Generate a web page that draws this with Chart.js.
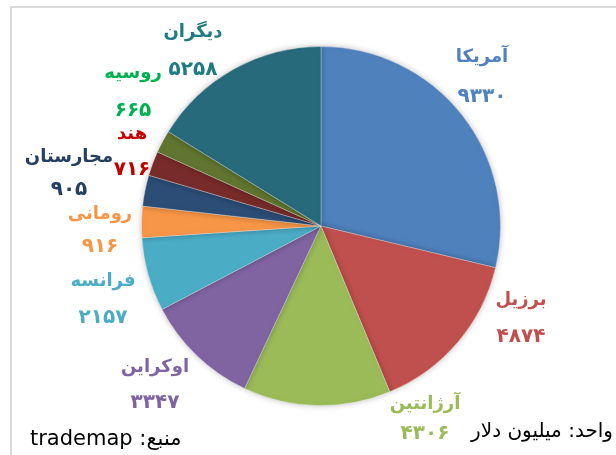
<!DOCTYPE html>
<html lang="fa">
  <head>
    <meta charset="UTF-8" />
    <title>واردات - سهم کشورها</title>
    <script src="https://cdn.jsdelivr.net/npm/chart.js"></script>
    <style>
      html, body { margin: 0; padding: 0; background: #ffffff; }
      .wrap { position: relative; width: 616px; height: 455px; overflow: hidden; }
      .frame {
        position: absolute; left: 10px; top: 6px; right: -5px; bottom: -5px;
        border-top: 2px solid #d9d9d9; border-left: 2px solid #d9d9d9;
      }
      canvas { position: absolute; left: 0; top: 0; }
    </style>
  </head>
  <body>
    <div class="wrap">
      <div class="frame"></div>
      <canvas id="pie" width="616" height="455"></canvas>
    </div>
    <script>
      // data (million dollars)
      const countries = ["آمریکا", "برزیل", "آرژانتین", "اوکراین", "فرانسه", "رومانی", "مجارستان", "هند", "روسیه", "دیگران"];
      const values = [9330, 4874, 4306, 3347, 2157, 916, 905, 716, 665, 5258];

      const sliceColors = ["#4f81bd", "#c0504d", "#9bbb59", "#8064a2", "#4bacc6", "#f79646", "#2c4d75", "#772c2a", "#5f7530", "#276a7c"];
      const labelColors = ["#4f81bd", "#c0504d", "#9bbb59", "#8064a2", "#4bacc6", "#f79646", "#243f60", "#c00000", "#00b050", "#1e7b83"];
      // label places: [x, y of name, y of value]
      const labelPos = [
        [482, 57, 97], [521, 300, 337], [425, 404, 434], [155, 367, 403], [103, 281, 318],
        [100, 214, 247], [69, 157, 190], [132, 134, 170], [133, 73, 111], [193, 32, 70]
      ];

      function faDigits(n) {
        const d = "۰۱۲۳۴۵۶۷۸۹";
        return String(n).replace(/[0-9]/g, (c) => d[+c]);
      }

      const labelsPlugin = {
        id: "labels",
        afterDraw(chart) {
          const ctx = chart.ctx;
          ctx.save();
          ctx.textAlign = "center";
          ctx.textBaseline = "middle";
          ctx.direction = "rtl";
          countries.forEach((name, i) => {
            const p = labelPos[i];
            ctx.fillStyle = labelColors[i];
            ctx.font = "bold 18px 'DejaVu Sans', sans-serif";
            ctx.fillText(name, p[0], p[1]);
            ctx.font = "bold 20px 'DejaVu Sans', sans-serif";
            ctx.fillText(faDigits(values[i]), p[0], p[2]);
          });
          ctx.fillStyle = "#000000";
          ctx.font = "20px 'DejaVu Sans', sans-serif";
          ctx.textAlign = "right";
          ctx.fillText("واحد: میلیون دلار", 613, 432);
          ctx.textAlign = "left";
          ctx.font = "21px 'DejaVu Sans', sans-serif";
          ctx.fillText("منبع: trademap", 30, 440);
          ctx.restore();
        }
      };

      const shadowPlugin = {
        id: "pieShadow",
        beforeDatasetsDraw(chart) {
          const ctx = chart.ctx;
          ctx.save();
          ctx.shadowColor = "rgba(0,0,0,0.25)";
          ctx.shadowBlur = 6;
        },
        afterDatasetsDraw(chart) {
          chart.ctx.restore();
        }
      };

      new Chart(document.getElementById("pie"), {
        type: "pie",
        data: {
          labels: countries,
          datasets: [{
            data: values,
            backgroundColor: sliceColors,
            borderColor: "rgba(255,255,255,0.3)",
            borderWidth: 1
          }]
        },
        options: {
          responsive: false,
          animation: false,
          layout: { padding: { left: 141, right: 115, top: 46, bottom: 49 } },
          plugins: {
            legend: { display: false },
            tooltip: { enabled: false }
          }
        },
        plugins: [shadowPlugin, labelsPlugin]
      });
    </script>
  </body>
</html>
